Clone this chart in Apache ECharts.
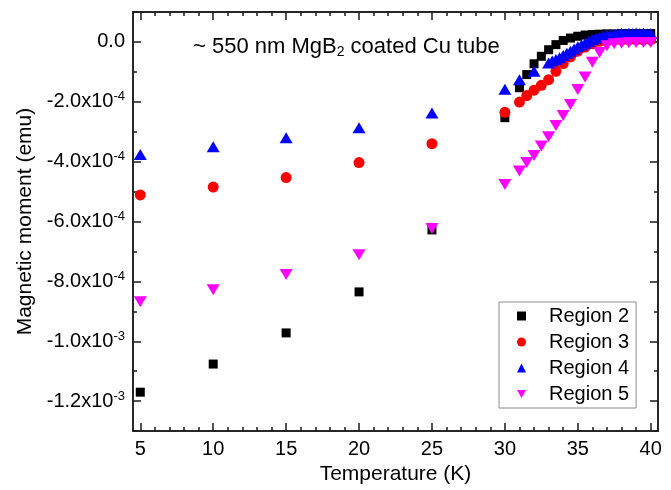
<!DOCTYPE html>
<html>
<head>
<meta charset="utf-8">
<script src="https://cdn.jsdelivr.net/npm/echarts@6/dist/echarts.min.js"></script>
<style>html,body{margin:0;padding:0;background:#fff;}#c{width:671px;height:490px;}</style>
</head>
<body>
<div id="c"></div>
<script>
// ---- data ----
const seriesNames = ['Region 2', 'Region 3', 'Region 4', 'Region 5'];
const T2 = [5,10,15,20,25,30,31,31.5,32,32.5,33,33.5,34,34.5,35,35.5,36,36.5,37,37.5,38,38.5,39,39.5,40];
const M2 = [-1.17e-3,-1.076e-3,-9.72e-4,-8.35e-4,-6.28e-4,-2.53e-4,-1.53e-4,-1.09e-4,-7.3e-5,-4.8e-5,-2.6e-5,-9e-6,5e-6,1.3e-5,1.9e-5,2.3e-5,2.5e-5,2.6e-5,2.7e-5,2.7e-5,2.8e-5,2.8e-5,2.8e-5,2.8e-5,2.8e-5];
const T3 = [5,10,15,20,25,30,31,31.5,32,32.5,33,33.5,34,34.5,35,35.5,36,36.5,37,37.5,38,38.5,39,39.5,40];
const M3 = [-5.11e-4,-4.85e-4,-4.53e-4,-4.03e-4,-3.4e-4,-2.35e-4,-2.01e-4,-1.79e-4,-1.61e-4,-1.45e-4,-1.26e-4,-9.8e-5,-7.2e-5,-5e-5,-3.1e-5,-1.7e-5,-6e-6,2e-6,5e-6,6e-6,6e-6,7e-6,7e-6,7e-6,7e-6];
const T4 = [5,10,15,20,25,30,31,32,33,33.25,33.5,33.75,34,34.25,34.5,34.75,35,35.25,35.5,35.75,36,36.25,36.5,36.75,37,37.25,37.5,37.75,38,38.25,38.5,38.75,39,39.25,39.5,39.75,40];
const M4 = [-3.76e-4,-3.5e-4,-3.2e-4,-2.87e-4,-2.37e-4,-1.58e-4,-1.26e-4,-9.8e-5,-7.0e-5,-6.4e-5,-5.9e-5,-5.3e-5,-4.5e-5,-3.8e-5,-3.1e-5,-2.4e-5,-1.6e-5,-1.0e-5,-4e-6,2e-6,8e-6,1.2e-5,1.6e-5,1.9e-5,2.2e-5,2.4e-5,2.5e-5,2.7e-5,2.8e-5,2.7e-5,2.9e-5,2.8e-5,3.0e-5,2.8e-5,2.9e-5,2.7e-5,2.8e-5];
const T5 = [5,10,15,20,25,30,31,31.5,32,32.5,33,33.5,34,34.5,35,35.5,36,36.5,37,37.5,38,38.5,39,39.5,40];
const M5 = [-8.68e-4,-8.28e-4,-7.77e-4,-7.11e-4,-6.23e-4,-4.76e-4,-4.31e-4,-4.03e-4,-3.79e-4,-3.48e-4,-3.17e-4,-2.79e-4,-2.46e-4,-2.09e-4,-1.59e-4,-1.17e-4,-6.8e-5,-3.5e-5,-1.3e-5,-6e-6,-4e-6,-3e-6,-2e-6,-2e-6,-2e-6];
const xTickLabels = [5,10,15,20,25,30,35,40];
const yTickLabels = [0,-2e-4,-4e-4,-6e-4,-8e-4,-1e-3,-1.2e-3];
const xTitle = 'Temperature (K)';
const yTitle = 'Magnetic moment (emu)';

// ---- helpers ----
const xMin = 4.5, xMax = 40.5, yMin = -1.3e-3, yMax = 1e-4;
const xMinor = []; for (let k = 5; k <= 40; k++) xMinor.push(k);
const yMinor = []; for (let k = -13; k <= 1; k++) yMinor.push(Number((k * 1e-4).toFixed(6)));
const pair = (xs, ys) => xs.map((x, i) => [x, ys[i]]);
const AX = '#1a1a1a';
const FONT = 'Liberation Sans, Arial, sans-serif';

function yFmt(v) {
  if (Math.abs(v) < 1e-12) return '{m|0.0}';
  const e = Math.floor(Math.log10(Math.abs(v)) + 1e-9);
  const m = v / Math.pow(10, e);
  return '{m|' + m.toFixed(1) + 'x10}{s|' + e + '}';
}

function xAx(pos, major, showLabel, name) {
  return {
    type: 'value', position: pos, min: xMin, max: xMax,
    name: name || '', nameLocation: 'middle', nameGap: 30,
    nameTextStyle: {fontFamily: FONT, fontSize: 21, color: '#000'},
    axisLine: {show: true, onZero: false, lineStyle: {color: AX, width: 1.5}},
    axisTick: {show: true, inside: true, length: major ? 8 : 4, lineStyle: {color: AX, width: 1.5},
      customValues: major ? xTickLabels : xMinor},
    axisLabel: {show: showLabel, customValues: xTickLabels, margin: 8, fontFamily: FONT, fontSize: 20, color: '#000'},
    splitLine: {show: false}
  };
}
function yAx(pos, major, showLabel, name) {
  return {
    type: 'value', position: pos, min: yMin, max: yMax,
    name: name || '', nameLocation: 'middle', nameGap: 93,
    nameTextStyle: {fontFamily: FONT, fontSize: 21, color: '#000'},
    axisLine: {show: true, onZero: false, lineStyle: {color: AX, width: 1.5}},
    axisTick: {show: true, inside: true, length: major ? 8 : 4, lineStyle: {color: AX, width: 1.5},
      customValues: major ? yTickLabels : yMinor},
    axisLabel: {show: showLabel, customValues: yTickLabels, margin: 8, formatter: yFmt,
      rich: {
        m: {fontFamily: FONT, fontSize: 20, color: '#000'},
        s: {fontFamily: FONT, fontSize: 13, color: '#000', padding: [0, 0, 10, 0]}
      }},
    splitLine: {show: false}
  };
}

const downTri = 'path://M0,0 L10,0 L5,8.66 Z';
const chart = echarts.init(document.getElementById('c'), null, {renderer: 'canvas'});
chart.setOption({
  animation: false,
  backgroundColor: '#fff',
  grid: {left: 133, right: 13, top: 12, bottom: 58},
  title: {
    left: 193, top: 35, padding: 0,
    text: '{a|~ 550 nm MgB}{s|2}{a| coated Cu tube}',
    textStyle: {fontWeight: 'normal', rich: {
      a: {fontFamily: FONT, fontSize: 22, fontWeight: 'normal', color: '#000'},
      s: {fontFamily: FONT, fontSize: 14, fontWeight: 'normal', color: '#000', padding: [10, 0, 0, 0]}
    }}
  },
  legend: {
    orient: 'vertical', left: 499, top: 302,
    padding: [4, 7, 4, 18],
    itemWidth: 9, itemHeight: 9, itemGap: 6,
    borderColor: '#8c8c8c', borderWidth: 1, backgroundColor: '#fff',
    textStyle: {fontFamily: FONT, fontSize: 20, color: '#000', lineHeight: 20, padding: [0, 0, 0, 18]},
    data: seriesNames
  },
  xAxis: [xAx('bottom', true, true, xTitle), xAx('bottom', false, false), xAx('top', true, false), xAx('top', false, false)],
  yAxis: [yAx('left', true, true, yTitle), yAx('left', false, false), yAx('right', true, false), yAx('right', false, false)],
  series: [
    {name: seriesNames[0], type: 'scatter', symbol: 'rect', symbolSize: 9, itemStyle: {color: '#000000', opacity: 1}, data: pair(T2, M2)},
    {name: seriesNames[1], type: 'scatter', symbol: 'circle', symbolSize: 11, itemStyle: {color: '#ff0000', opacity: 1}, data: pair(T3, M3)},
    {name: seriesNames[2], type: 'scatter', symbol: 'triangle', symbolSize: [13, 11], itemStyle: {color: '#0000ff', opacity: 1}, data: pair(T4, M4)},
    {name: seriesNames[3], type: 'scatter', symbol: downTri, symbolSize: [13, 11], itemStyle: {color: '#ff00ff', opacity: 1}, data: pair(T5, M5)}
  ]
});
</script>
</body>
</html>
